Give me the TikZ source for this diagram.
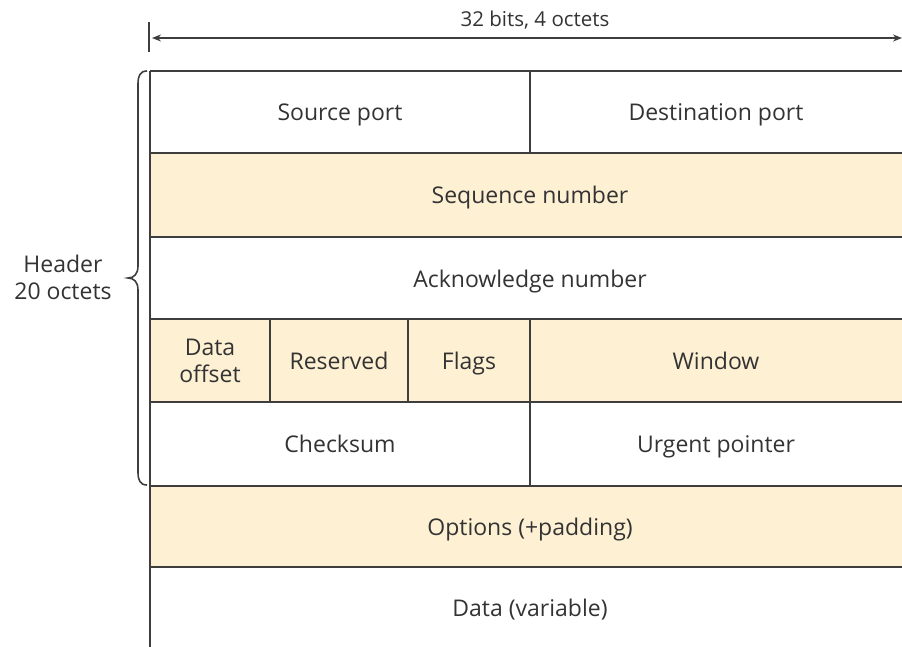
\documentclass[tikz,border=0pt]{standalone}
\usepackage{fontspec}
\setmainfont{Open Sans}
\usetikzlibrary{arrows.meta}
\definecolor{beige}{HTML}{FEF0D3}
\definecolor{ln}{HTML}{3E3E3E}
\definecolor{txt}{HTML}{333333}
\tikzset{
  lbl/.style={text=txt, font=\fontsize{23}{27}\selectfont, inner sep=0pt, anchor=base},
  lbltwo/.style={text=txt, font=\fontsize{23}{27}\selectfont, align=center, inner sep=0pt},
  rule/.style={draw=ln, line width=2pt},
}
\begin{document}
\begin{tikzpicture}[x=1pt,y=-1pt]
\useasboundingbox (0,0) rectangle (902,647);
% fills
\fill[beige] (150,153) rectangle (902,237);
\fill[beige] (150,319) rectangle (902,402);
\fill[beige] (150,486) rectangle (902,567);
% horizontal rules
\foreach \y in {71,153,237,319,402,486,567}
  \draw[rule] (150,\y) -- (902,\y);
% left edge
\draw[rule] (150,71) -- (150,647);
% vertical dividers
\draw[rule] (530,71) -- (530,153);
\draw[rule] (270,319) -- (270,402);
\draw[rule] (408,319) -- (408,402);
\draw[rule] (530,319) -- (530,486);
% labels (baseline = row centre + 8)
\node[lbl] (src) at (340,121) {Source port};
\node[lbl] (dst) at (716,121) {Destination port};
\node[lbl] (seq) at (530,204) {Sequence number};
\node[lbl] (ack) at (530,287) {Acknowledge number};
\node[lbltwo] (off) at (210,361) {Data\\offset};
\node[lbl] (res) at (339,369) {Reserved};
\node[lbl] (flg) at (469,369) {Flags};
\node[lbl] (win) at (716,369) {Window};
\node[lbl] (chk) at (340,452) {Checksum};
\node[lbl] (urg) at (716,452) {Urgent pointer};
\node[lbl] (opt) at (530,535) {Options (+padding)};
\node[lbl] (dat) at (530,616) {Data (variable)};
% top dimension
\coordinate (tr) at (902,38);
\draw[ln, line width=2pt] (149,22) -- (149,52);
\draw[ln, line width=2pt, {Stealth[length=9pt,width=7pt]}-{Stealth[length=9pt,width=7pt]}] (152,38) -- (tr);
\node[lbl, font=\fontsize{20.5}{24}\selectfont] (dim) at (535,27) {32 bits, 4 octets};
% brace
\draw[ln, line width=1.6pt] (147,71) .. controls (140,71) and (138,76) .. (138,84)
  -- (138,266) .. controls (138,274) and (134,278) .. (128,278)
  .. controls (134,278) and (138,282) .. (138,290)
  -- (138,472) .. controls (138,480) and (140,485) .. (147,485);
\node[lbltwo] (hdr) at (63,277) {Header\\20 octets};
\end{tikzpicture}
\end{document}
